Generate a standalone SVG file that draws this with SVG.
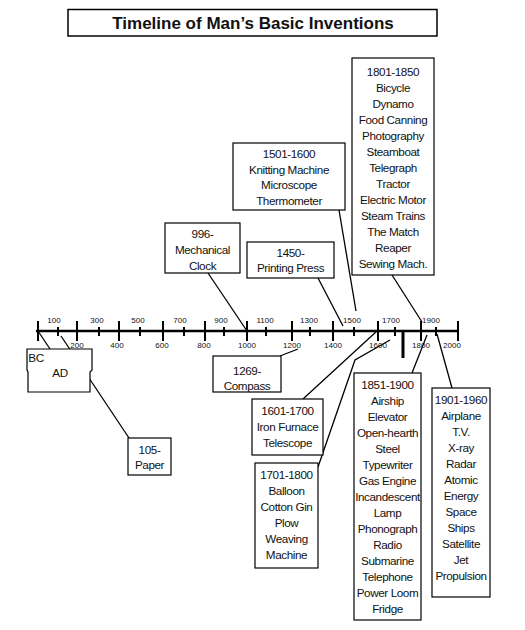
<svg xmlns="http://www.w3.org/2000/svg" width="525" height="630" viewBox="0 0 525 630">
<style>
.box{fill:#fff;stroke:#000;stroke-width:1.2}
.t{font-family:"Liberation Sans",Arial,sans-serif;font-size:11.7px;letter-spacing:-0.4px;text-anchor:middle;fill:#111}
.ax{font-family:"Liberation Sans",Arial,sans-serif;font-size:8px;text-anchor:middle;fill:#111}
.c{stroke:#000;stroke-width:1.3;fill:none}
.maj{stroke:#000;stroke-width:2}
.min{stroke:#000;stroke-width:2}
</style>
<rect width="525" height="630" fill="#fff"/>
<g id="title">
<rect x="68" y="9.5" width="369" height="26.5" fill="#fff" stroke="#000" stroke-width="1.5"/>
<text x="253" y="29" font-family="'Liberation Sans',Arial,sans-serif" font-size="17" font-weight="bold" text-anchor="middle" fill="#111">Timeline of Man’s Basic Inventions</text>
</g>
<g id="connectors">
<line class="c" x1="38" y1="331" x2="50" y2="349"/>
<line class="c" x1="61" y1="336" x2="129" y2="438"/>
<line class="c" x1="208" y1="273" x2="247" y2="331"/>
<line class="c" x1="318" y1="278" x2="343" y2="326"/>
<line class="c" x1="339" y1="210" x2="356" y2="311"/>
<line class="c" x1="392" y1="275" x2="422" y2="322"/>
<line class="c" x1="280" y1="356" x2="298" y2="349"/>
<line class="c" x1="303" y1="399" x2="377" y2="331"/>
<polyline class="c" points="318,467 355,360 390,340"/>
<line class="c" x1="412" y1="373" x2="427" y2="335"/>
<line class="c" x1="452" y1="388" x2="437" y2="334"/>
</g>
<g id="axis">
<line x1="36" y1="331" x2="458" y2="331" stroke="#000" stroke-width="2.5"/>
<g class="maj">
<line x1="38" y1="321" x2="38" y2="341"/><line x1="77" y1="321" x2="77" y2="341"/><line x1="119" y1="321" x2="119" y2="341"/><line x1="163" y1="321" x2="163" y2="341"/><line x1="205" y1="321" x2="205" y2="341"/><line x1="247" y1="321" x2="247" y2="341"/><line x1="292" y1="321" x2="292" y2="341"/><line x1="333" y1="321" x2="333" y2="341"/><line x1="378" y1="321" x2="378" y2="341"/><line x1="421" y1="321" x2="421" y2="341"/><line x1="458" y1="321" x2="458" y2="341"/>
</g>
<g class="min">
<line x1="58" y1="327" x2="58" y2="336"/><line x1="99" y1="327" x2="99" y2="336"/><line x1="140" y1="327" x2="140" y2="336"/><line x1="184" y1="327" x2="184" y2="336"/><line x1="224" y1="327" x2="224" y2="336"/><line x1="266" y1="327" x2="266" y2="336"/><line x1="310" y1="327" x2="310" y2="336"/><line x1="354" y1="327" x2="354" y2="336"/><line x1="395" y1="327" x2="395" y2="336"/><line x1="436" y1="327" x2="436" y2="336"/>
</g>
<line x1="403" y1="331" x2="403" y2="358" stroke="#000" stroke-width="3"/>
<g class="ax">
<text x="54" y="323">100</text><text x="97" y="323">300</text><text x="138" y="323">500</text><text x="180" y="323">700</text><text x="221" y="323">900</text><text x="265" y="323">1100</text><text x="309" y="323">1300</text><text x="352" y="323">1500</text><text x="391" y="323">1700</text><text x="431" y="323">1900</text>
<text x="77" y="348">200</text><text x="117" y="348">400</text><text x="162" y="348">600</text><text x="204" y="348">800</text><text x="247" y="348">1000</text><text x="292" y="348">1200</text><text x="333" y="348">1400</text><text x="378" y="348">1600</text><text x="421" y="348">1800</text><text x="452" y="348">2000</text>
</g>
</g>
<g id="bc-ad">
<polygon class="box" points="27,349 92,349 92,370 90,372 90,392 28,392 28,372 27,370"/>
<text class="t" x="36" y="362" font-size="12">BC</text>
<text class="t" x="60" y="377" font-size="12">AD</text>
</g>
<g id="n105">
<rect class="box" x="128" y="438" width="43" height="37"/>
<text class="t" x="149.5" y="454">105-</text>
<text class="t" x="149.5" y="469">Paper</text>
</g>
<g id="n996">
<rect class="box" x="165" y="223" width="75" height="50"/>
<text class="t" x="202.5" y="238">996-</text>
<text class="t" x="202.5" y="254">Mechanical</text>
<text class="t" x="202.5" y="270">Clock</text>
</g>
<g id="n1450">
<rect class="box" x="247" y="242" width="87" height="36"/>
<text class="t" x="290.5" y="257">1450-</text>
<text class="t" x="290.5" y="272">Printing Press</text>
</g>
<g id="n1501">
<rect class="box" x="233" y="143" width="112" height="67"/>
<text class="t" x="289" y="158">1501-1600</text>
<text class="t" x="289" y="174">Knitting Machine</text>
<text class="t" x="289" y="189">Microscope</text>
<text class="t" x="289" y="205">Thermometer</text>
</g>
<g id="n1801">
<rect class="box" x="352" y="58" width="82" height="217"/>
<text class="t" x="393" y="76">1801-1850</text>
<text class="t" x="393" y="92">Bicycle</text>
<text class="t" x="393" y="108">Dynamo</text>
<text class="t" x="393" y="124">Food Canning</text>
<text class="t" x="393" y="140">Photography</text>
<text class="t" x="393" y="156">Steamboat</text>
<text class="t" x="393" y="172">Telegraph</text>
<text class="t" x="393" y="188">Tractor</text>
<text class="t" x="393" y="204">Electric Motor</text>
<text class="t" x="393" y="220">Steam Trains</text>
<text class="t" x="393" y="236">The Match</text>
<text class="t" x="393" y="252">Reaper</text>
<text class="t" x="393" y="268">Sewing Mach.</text>
</g>
<g id="n1269">
<rect class="box" x="213" y="356" width="68" height="36"/>
<text class="t" x="247" y="375">1269-</text>
<text class="t" x="247" y="390">Compass</text>
</g>
<g id="n1601">
<rect class="box" x="252" y="399" width="71" height="56"/>
<text class="t" x="287.5" y="415">1601-1700</text>
<text class="t" x="287.5" y="431">Iron Furnace</text>
<text class="t" x="287.5" y="447">Telescope</text>
</g>
<g id="n1701">
<rect class="box" x="255" y="463" width="63" height="105"/>
<text class="t" x="286.5" y="479">1701-1800</text>
<text class="t" x="286.5" y="495">Balloon</text>
<text class="t" x="286.5" y="511">Cotton Gin</text>
<text class="t" x="286.5" y="527">Plow</text>
<text class="t" x="286.5" y="543">Weaving</text>
<text class="t" x="286.5" y="559">Machine</text>
</g>
<g id="n1851">
<rect class="box" x="354" y="373" width="67" height="247"/>
<text class="t" x="387.5" y="389">1851-1900</text>
<text class="t" x="387.5" y="405">Airship</text>
<text class="t" x="387.5" y="421">Elevator</text>
<text class="t" x="387.5" y="437">Open-hearth</text>
<text class="t" x="387.5" y="453">Steel</text>
<text class="t" x="387.5" y="469">Typewriter</text>
<text class="t" x="387.5" y="485">Gas Engine</text>
<text class="t" x="387.5" y="501">Incandescent</text>
<text class="t" x="387.5" y="517">Lamp</text>
<text class="t" x="387.5" y="533">Phonograph</text>
<text class="t" x="387.5" y="549">Radio</text>
<text class="t" x="387.5" y="565">Submarine</text>
<text class="t" x="387.5" y="581">Telephone</text>
<text class="t" x="387.5" y="597">Power Loom</text>
<text class="t" x="387.5" y="613">Fridge</text>
</g>
<g id="n1901">
<rect class="box" x="432" y="388" width="58" height="209"/>
<text class="t" x="461" y="404">1901-1960</text>
<text class="t" x="461" y="420">Airplane</text>
<text class="t" x="461" y="436">T.V.</text>
<text class="t" x="461" y="452">X-ray</text>
<text class="t" x="461" y="468">Radar</text>
<text class="t" x="461" y="484">Atomic</text>
<text class="t" x="461" y="500">Energy</text>
<text class="t" x="461" y="516">Space</text>
<text class="t" x="461" y="532">Ships</text>
<text class="t" x="461" y="548">Satellite</text>
<text class="t" x="461" y="564">Jet</text>
<text class="t" x="461" y="580">Propulsion</text>
</g>
</svg>
